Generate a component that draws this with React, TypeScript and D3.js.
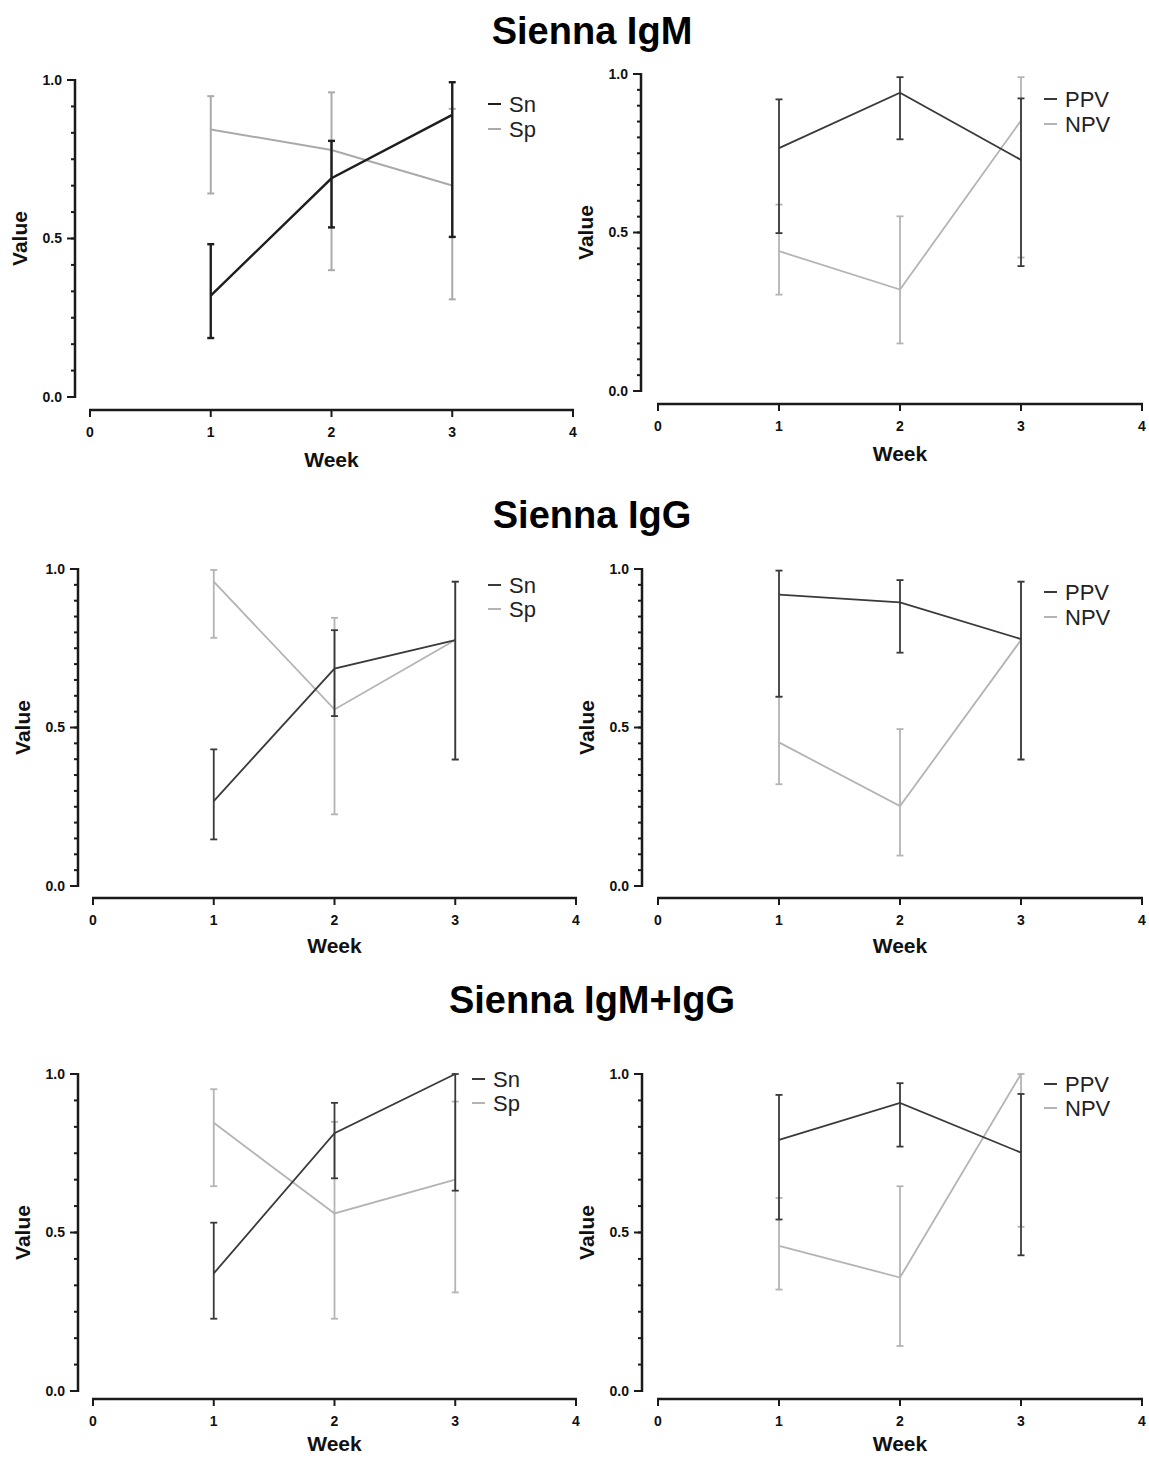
import React from 'react';
import * as d3 from 'd3';

const weeks = [1, 2, 3];
const xTicks = [0, 1, 2, 3, 4];
const yMajorTicks = [0, 0.5, 1];
const titles = ['Sienna IgM', 'Sienna IgG', 'Sienna IgM+IgG'];

// Sienna IgM
const igmSn = [0.32, 0.69, 0.89];
const igmSnLo = [0.186, 0.535, 0.505];
const igmSnHi = [0.482, 0.808, 0.993];
const igmSp = [0.844, 0.779, 0.667];
const igmSpLo = [0.642, 0.4, 0.308];
const igmSpHi = [0.949, 0.961, 0.909];
const igmPpv = [0.766, 0.941, 0.729];
const igmPpvLo = [0.498, 0.794, 0.394];
const igmPpvHi = [0.92, 0.99, 0.923];
const igmNpv = [0.441, 0.32, 0.853];
const igmNpvLo = [0.304, 0.15, 0.421];
const igmNpvHi = [0.588, 0.551, 0.99];

// Sienna IgG
const iggSn = [0.268, 0.686, 0.776];
const iggSnLo = [0.147, 0.536, 0.399];
const iggSnHi = [0.431, 0.807, 0.96];
const iggSp = [0.96, 0.557, 0.776];
const iggSpLo = [0.783, 0.226, 0.399];
const iggSpHi = [0.997, 0.846, 0.96];
const iggPpv = [0.919, 0.895, 0.779];
const iggPpvLo = [0.597, 0.736, 0.399];
const iggPpvHi = [0.995, 0.965, 0.96];
const iggNpv = [0.453, 0.252, 0.776];
const iggNpvLo = [0.321, 0.096, 0.399];
const iggNpvHi = [0.597, 0.495, 0.96];

// Sienna IgM+IgG
const bothSn = [0.371, 0.813, 1.0];
const bothSnLo = [0.228, 0.671, 0.632];
const bothSnHi = [0.531, 0.909, 1.0];
const bothSp = [0.846, 0.56, 0.667];
const bothSpLo = [0.646, 0.228, 0.311];
const bothSpHi = [0.952, 0.849, 0.913];
const bothPpv = [0.792, 0.909, 0.752];
const bothPpvLo = [0.541, 0.771, 0.428];
const bothPpvHi = [0.934, 0.971, 0.937];
const bothNpv = [0.458, 0.358, 1.0];
const bothNpvLo = [0.32, 0.142, 0.518];
const bothNpvHi = [0.609, 0.646, 1.0];

type Series = { name: string; v: number[]; lo: number[]; hi: number[]; color: string; width: number };
type Panel = {
  ax: number; yTop: number; yBot: number; xAxisY: number; weekDy: number; x0: number; x4: number;
  legX: number; legY: number; legGap: number; minor: number; series: Series[];
};

const DARK = '#3a3a3a';
const LIGHT = '#b4b4b4';

const mk = (name: string, v: number[], lo: number[], hi: number[], color: string, width = 1.8): Series =>
  ({ name, v, lo, hi, color, width });

const panels: Panel[] = [
  { ax: 75, yTop: 80, yBot: 397, xAxisY: 410, weekDy: 57, x0: 90, x4: 573, legX: 488, legY: 104, legGap: 25, minor: 12,
    series: [mk('Sp', igmSp, igmSpLo, igmSpHi, '#aaaaaa', 2), mk('Sn', igmSn, igmSnLo, igmSnHi, '#1e1e1e', 2.4)] },
  { ax: 641, yTop: 74, yBot: 391, xAxisY: 404, weekDy: 57, x0: 658, x4: 1142, legX: 1044, legY: 99, legGap: 25, minor: 20,
    series: [mk('NPV', igmNpv, igmNpvLo, igmNpvHi, LIGHT), mk('PPV', igmPpv, igmPpvLo, igmPpvHi, DARK)] },
  { ax: 78, yTop: 569, yBot: 886, xAxisY: 898, weekDy: 55, x0: 93, x4: 576, legX: 488, legY: 585, legGap: 24, minor: 20,
    series: [mk('Sp', iggSp, iggSpLo, iggSpHi, LIGHT), mk('Sn', iggSn, iggSnLo, iggSnHi, DARK)] },
  { ax: 642, yTop: 569, yBot: 886, xAxisY: 898, weekDy: 55, x0: 658, x4: 1142, legX: 1044, legY: 592, legGap: 25, minor: 20,
    series: [mk('NPV', iggNpv, iggNpvLo, iggNpvHi, LIGHT), mk('PPV', iggPpv, iggPpvLo, iggPpvHi, DARK)] },
  { ax: 78, yTop: 1074, yBot: 1391, xAxisY: 1399, weekDy: 52, x0: 93, x4: 576, legX: 472, legY: 1079, legGap: 24, minor: 12,
    series: [mk('Sp', bothSp, bothSpLo, bothSpHi, LIGHT), mk('Sn', bothSn, bothSnLo, bothSnHi, DARK)] },
  { ax: 642, yTop: 1074, yBot: 1391, xAxisY: 1399, weekDy: 52, x0: 658, x4: 1142, legX: 1044, legY: 1084, legGap: 24, minor: 12,
    series: [mk('NPV', bothNpv, bothNpvLo, bothNpvHi, LIGHT), mk('PPV', bothPpv, bothPpvLo, bothPpvHi, DARK)] },
];

const titleY = [44, 528, 1013];
const FONT = '"Liberation Sans", Arial, sans-serif';
const AXIS = '#1a1a1a';

function PanelChart({ p }: { p: Panel }) {
  const x = d3.scaleLinear().domain([0, 4]).range([p.x0, p.x4]);
  const y = d3.scaleLinear().domain([0, 1]).range([p.yBot, p.yTop]);
  const minorTicks = d3.range(p.minor + 1).map(i => i / p.minor);
  const line = d3.line<number>().x((_, i) => x(weeks[i])).y(d => y(d));
  // legend order: dark series first
  const legend = [...p.series].reverse();
  return (
    <g>
      {/* y axis */}
      <line x1={p.ax} x2={p.ax} y1={p.yTop - 1} y2={p.yBot + 1} stroke={AXIS} strokeWidth={2.5} />
      {minorTicks.map(t => (
        <line key={'m' + t} x1={p.ax - 4} x2={p.ax} y1={y(t)} y2={y(t)} stroke={AXIS} strokeWidth={2} />
      ))}
      {yMajorTicks.map(t => (
        <g key={'y' + t}>
          <line x1={p.ax - 8} x2={p.ax} y1={y(t)} y2={y(t)} stroke={AXIS} strokeWidth={2} />
          <text x={p.ax - 13} y={y(t)} dy="0.35em" textAnchor="end" fontSize={14} fontWeight="bold"
            fontFamily={FONT} fill="#111">{d3.format('.1f')(t)}</text>
        </g>
      ))}
      <text transform={`translate(${p.ax - 55},${(p.yTop + p.yBot) / 2}) rotate(-90)`} textAnchor="middle"
        dy="0.35em" fontSize={21} fontWeight="bold" fontFamily={FONT} fill="#111">Value</text>
      {/* x axis */}
      <line x1={x(0) - 1} x2={x(4) + 1} y1={p.xAxisY} y2={p.xAxisY} stroke={AXIS} strokeWidth={2.5} />
      {xTicks.map(t => (
        <g key={'x' + t}>
          <line x1={x(t)} x2={x(t)} y1={p.xAxisY} y2={p.xAxisY + 7} stroke={AXIS} strokeWidth={2} />
          <text x={x(t)} y={p.xAxisY + 27} textAnchor="middle" fontSize={14} fontWeight="bold"
            fontFamily={FONT} fill="#111">{t}</text>
        </g>
      ))}
      <text x={(x(0) + x(4)) / 2} y={p.xAxisY + p.weekDy} textAnchor="middle" fontSize={21} fontWeight="bold"
        fontFamily={FONT} fill="#111">Week</text>
      {/* series */}
      {p.series.map(s => (
        <g key={s.name}>
          {weeks.map((w, i) => (
            <g key={w}>
              <line x1={x(w)} x2={x(w)} y1={y(s.lo[i])} y2={y(s.hi[i])} stroke={s.color} strokeWidth={s.width} />
              <line x1={x(w) - 3.5} x2={x(w) + 3.5} y1={y(s.lo[i])} y2={y(s.lo[i])} stroke={s.color} strokeWidth={s.width} />
              <line x1={x(w) - 3.5} x2={x(w) + 3.5} y1={y(s.hi[i])} y2={y(s.hi[i])} stroke={s.color} strokeWidth={s.width} />
            </g>
          ))}
          <path d={line(s.v) || ''} fill="none" stroke={s.color} strokeWidth={s.width} />
        </g>
      ))}
      {/* legend */}
      {legend.map((s, i) => (
        <g key={'l' + s.name}>
          <line x1={p.legX} x2={p.legX + 13} y1={p.legY + i * p.legGap} y2={p.legY + i * p.legGap}
            stroke={s.color} strokeWidth={2} />
          <text x={p.legX + 21} y={p.legY + i * p.legGap} dy="0.35em" fontSize={22} fontFamily={FONT}
            fill="#222">{s.name}</text>
        </g>
      ))}
    </g>
  );
}

export default function App() {
  return (
    <svg width={1149} height={1458} style={{ position: 'absolute', left: 0, top: 0, background: '#fff' }}>
      <rect width={1149} height={1458} fill="#fff" />
      {titles.map((t, i) => (
        <text key={t} x={592} y={titleY[i]} textAnchor="middle" fontSize={38} fontWeight="bold"
          fontFamily={FONT} fill="#000">{t}</text>
      ))}
      {panels.map((p, i) => <PanelChart key={i} p={p} />)}
    </svg>
  );
}
